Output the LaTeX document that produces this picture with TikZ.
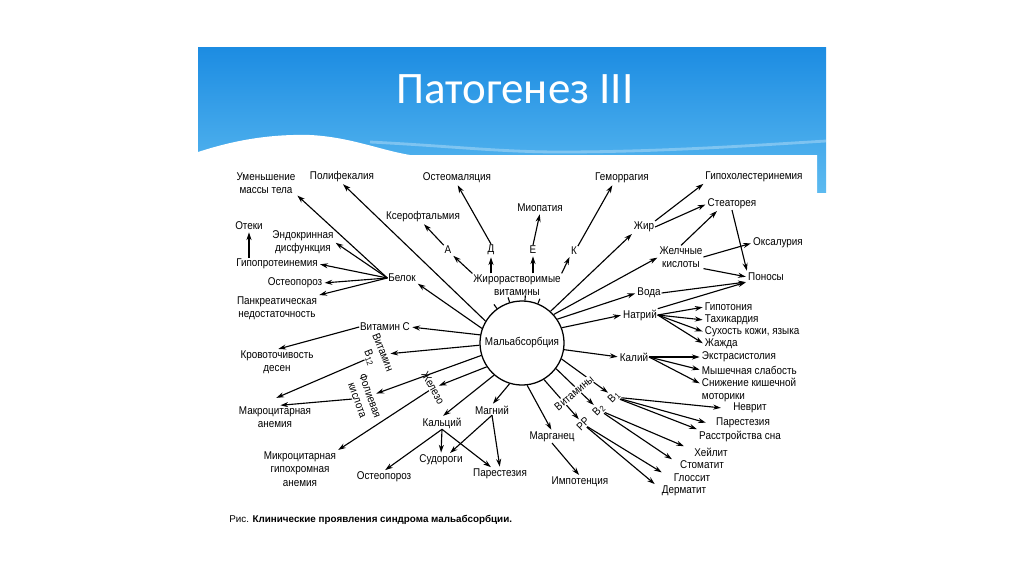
\documentclass[tikz,border=0pt]{standalone}
\usepackage{fontspec}
\setmainfont{Liberation Sans}
\newfontfamily\diagfont[FakeStretch=0.88]{Liberation Sans}
\newfontfamily\titlefont{Carlito}
\usetikzlibrary{arrows.meta, calc}
\definecolor{bantop}{RGB}{28,140,226}
\definecolor{banbot}{RGB}{92,186,240}

\begin{document}
\begin{tikzpicture}[x=0.025cm, y=-0.025cm,
  lbl/.style={font=\diagfont\fontsize{8}{9.5}\selectfont, inner sep=0.5pt, align=center},
  rlbl/.style={lbl, anchor=west, align=left},
  arr/.style={-{Stealth[length=5.5pt,width=3.6pt]}, line width=0.8pt, shorten >=1pt}]

% Slide background and banner
\fill[white] (0,0) rectangle (1024,574);
\useasboundingbox (0,0) rectangle (1024,574);
\shade[top color=bantop, bottom color=banbot] (198,47) rectangle (826,192);
\draw[white, opacity=0.3, line width=2pt] (370,142) .. controls (450,146) and (500,152) .. (560,152) .. controls (660,152) and (760,145) .. (826,141);
\fill[white] (198,152) .. controls (235,140) and (270,134) .. (310,135) .. controls (350,137) and (380,150) .. (410,155) -- (817,155) -- (817,200) -- (198,200) -- cycle;
\node[font=\titlefont\fontsize{32}{34}\selectfont, text=white] (title) at (515,89) {Патогенез III};

% Centre
\node[lbl, draw, circle, line width=0.9pt, minimum size=2.1cm] (mal) at (522,343) {Мальабсорбция};

% Labels, top and left
\node[lbl] (umen) at (266,183) {Уменьшение\\массы тела};
\node[lbl] (polif) at (342,177) {Полифекалия};
\node[lbl] (osteom) at (457,178) {Остеомаляция};
\node[lbl] (kser) at (423,217) {Ксерофтальмия};
\node[lbl] (miop) at (540,208) {Миопатия};
\node[lbl] (gemor) at (622,178) {Геморрагия};
\node[lbl] (vA) at (448,250) {А};
\node[lbl] (vD) at (491,250) {Д};
\node[lbl] (vE) at (533,250) {Е};
\node[lbl] (vK) at (574,251) {К};
\node[lbl] (zhirov) at (517,285) {Жирорастворимые\\витамины};
\node[lbl] (otek) at (249,226) {Отеки};
\node[lbl] (endo) at (303,242) {Эндокринная\\дисфункция};
\node[lbl] (hypop) at (277,264) {Гипопротеинемия};
\node[lbl] (osteoL) at (295,283) {Остеопороз};
\node[lbl] (pankr) at (277,308) {Панкреатическая\\недостаточность};
\node[lbl] (belok) at (402,278) {Белок};
\node[lbl] (vitC) at (385,327) {Витамин С};
\node[lbl, rotate=-68] (b12) at (376,355) {Витамин\\B\textsubscript{12}};
\node[lbl, rotate=-70] (fol) at (364,398) {Фолиевая\\кислота};
\node[lbl, rotate=-61] (zhel) at (433,388) {Железо};
\node[lbl] (krov) at (277,362) {Кровоточивость\\десен};
\node[lbl] (makro) at (275,417) {Макроцитарная\\анемия};
\node[lbl] (mikro) at (300,469) {Микроцитарная\\гипохромная\\анемия};

% Labels, bottom
\node[lbl] (kalc) at (442,423) {Кальций};
\node[lbl] (magn) at (492,410) {Магний};
\node[lbl] (sud) at (441,460) {Судороги};
\node[lbl] (osteoB) at (384,477) {Остеопороз};
\node[lbl] (parB) at (500,474) {Парестезия};
\node[lbl] (marg) at (552,437) {Марганец};
\node[lbl] (impot) at (580,482) {Импотенция};
\node[lbl, rotate=45] (b1) at (614,397) {B\textsubscript{1}};
\node[lbl, rotate=45] (b2) at (599,410) {B\textsubscript{2}};
\node[lbl, rotate=45] (pp) at (583,424) {PP};

% Labels, right
\node[lbl] (hypochol) at (754,177) {Гипохолестеринемия};
\node[lbl] (steat) at (732,204) {Стеаторея};
\node[lbl] (zhir) at (644,227) {Жир};
\node[lbl] (zhk) at (681,257) {Желчные\\кислоты};
\node[lbl] (oksal) at (778,243) {Оксалурия};
\node[lbl] (ponos) at (766,277) {Поносы};
\node[lbl] (voda) at (649,293) {Вода};
\node[lbl] (natr) at (640,315) {Натрий};
\node[rlbl] (hypot) at (704,307) {Гипотония};
\node[rlbl] (tach) at (704,320) {Тахикардия};
\node[rlbl] (sukh) at (704,332) {Сухость кожи, языка};
\node[rlbl] (zhazh) at (704,344) {Жажда};
\node[lbl] (kalii) at (634,357) {Калий};
\node[rlbl] (extr) at (701,357) {Экстрасистолия};
\node[rlbl] (mysh) at (701,370) {Мышечная слабость};
\node[rlbl] (snizh) at (701,390) {Снижение кишечной\\моторики};
\node[lbl] (nevr) at (750,408) {Неврит};
\node[lbl] (parR) at (743,423) {Парестезия};
\node[lbl] (rasstr) at (740,436) {Расстройства сна};
\node[lbl] (heil) at (711,452) {Хейлит};
\node[lbl] (stom) at (702,465) {Стоматит};
\node[lbl] (gloss) at (692,478) {Глоссит};
\node[lbl] (derm) at (684,491) {Дерматит};

% Protein
\draw[arr] (mal.149) -- (polif.south);
\draw[arr] (mal.160) -- (belok.south east);
\draw[arr] (belok.west) -- (umen.south east);
\draw[arr] (belok.west) -- (endo.east);
\draw[arr] (belok.west) -- (hypop.east);
\draw[arr] (belok.west) -- (osteoL.east);
\draw[arr] (belok.west) -- (pankr.north east);
\draw[arr] (hypop.north -| otek) -- (otek.south);

% Fat-soluble vitamins
\foreach \a in {126,107,86,68}
  \draw[line width=0.8pt] (mal.\a) -- ($(mal.center)!1.12!(mal.\a)$);
\draw[arr] (zhirov.north west) -- (vA.south east);
\draw[arr] (vA.north west) -- (kser.south);
\draw[arr] (vD.south |- zhirov.north) -- (vD.south);
\draw[arr] (vD.north) -- (osteom.south);
\draw[arr] (vE.south |- zhirov.north) -- (vE.south);
\draw[arr] (vE.north) -- (miop.south);
\draw[arr] (zhirov.north east) -- (vK.south west);
\draw[arr] (vK.north east) -- ([shift={(-9,0)}]gemor.south);

% Fat, bile acids, water, electrolytes
\draw[arr] (mal.48) -- (zhir.south west);
\draw[arr] (zhir.north east) -- (hypochol.south west);
\draw[arr] (zhir.east) -- (steat.west);
\draw[arr] (mal.42) -- (zhk.west);
\draw[arr] (zhk.north) -- ([shift={(-14,0)}]steat.south);
\draw[arr] (zhk.east) -- (oksal.west);
\draw[arr] (zhk.south east) -- (ponos.west);
\draw[arr] (steat.south) -- (ponos.north west);
\draw[arr] (mal.34) -- (voda.west);
\draw[arr] (voda.east) -- (ponos.south west);
\draw[arr] (mal.21) -- (natr.west);
\draw[arr] (natr.north east) -- (ponos.south west);
\foreach \t in {hypot,tach,sukh,zhazh}
  \draw[arr] (natr.east) -- (\t.west);
\draw[arr] (mal.351) -- (kalii.west);
\draw[arr] (kalii.east) -- (extr.west);
\draw[arr] (kalii.east) -- (mysh.west);
\draw[arr] (kalii.east) -- ([shift={(0,-6)}]snizh.west);

% Water-soluble vitamins
\draw[arr] (mal.338) -- (b1);
\draw[arr] (mal.323) -- (b2);
\draw[arr] (mal.301) -- (pp);
\node[lbl, rotate=40, fill=white, inner sep=0.3pt] (vit) at (574,393) {Витамины};
\draw[arr] (b1) -- ([shift={(-10,0)}]nevr.west);
\draw[arr] (b1) -- ([shift={(-8,0)}]parR.west);
\draw[arr] (b1) -- (rasstr.north west);
\draw[arr] (b2) -- ([shift={(-8,0)}]heil.north west);
\draw[arr] (b2) -- ([shift={(-6,0)}]stom.north west);
\draw[arr] (pp) -- ([shift={(-10,0)}]gloss.north west);
\draw[arr] (pp) -- ([shift={(-5,0)}]derm.north west);

% Minerals
\draw[arr] (mal.277) -- (marg.north);
\draw[arr] (marg.south) -- (impot.north);
\draw[arr] (mal.253) -- (magn.north);
\draw[arr] (magn.south) -- ([shift={(8,0)}]sud.north);
\draw[arr] (magn.south) -- (parB.north);
\draw[arr] (mal.229) -- (kalc.north);
\draw[arr] (kalc.south) -- (osteoB.north);
\draw[arr] (kalc.south) -- (sud.north);
\draw[arr] (kalc.south) -- ([shift={(-8,0)}]parB.north);
\draw[arr] (mal.214) -- (zhel);
\draw[arr] (zhel) -- (mikro.north east);

% Vitamin C, B12, folic acid
\draw[arr] (mal.169) -- (vitC.east);
\draw[arr] (vitC.west) -- (krov.north);
\draw[arr] (mal.183) -- (b12);
\draw[arr] (b12) -- ([shift={(0,-7)}]makro.north);
\draw[arr] (mal.197) -- (fol);
\draw[arr] (fol) -- ([shift={(4,0)}]makro.north);

% Caption
\node[anchor=west, font=\fontsize{7}{8}\selectfont, inner sep=0pt] (cap) at (229,520) {Рис. \textbf{Клинические проявления синдрома мальабсорбции.}};

\end{tikzpicture}
\end{document}
